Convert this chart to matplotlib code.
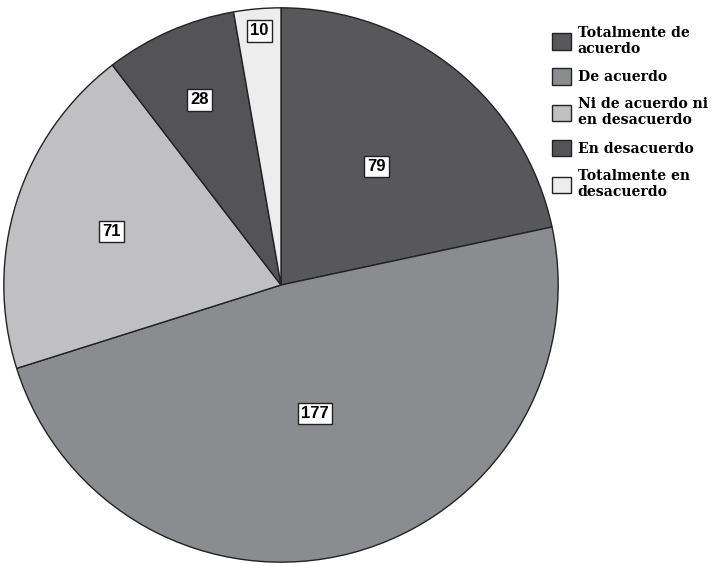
import numpy as np
import matplotlib.pyplot as plt

categories = ["Totalmente de\nacuerdo", "De acuerdo", "Ni de acuerdo ni\nen desacuerdo",
              "En desacuerdo", "Totalmente en\ndesacuerdo"]
counts = [79, 177, 71, 28, 10]
colors = ["#58585b", "#8b8c90", "#c0c0c2", "#545456", "#ededed"]
label_r = [0.55, 0.48, 0.64, 0.73, 0.92]

W, H = 712, 563
fig = plt.figure(figsize=(W / 100, H / 100), dpi=100)
# pie area in pixels: left 3, top 7, size 556
ax = fig.add_axes([3 / W, (H - 7 - 556) / H, 556 / W, 556 / H])

wedges, _ = ax.pie(counts, colors=colors, startangle=90, counterclock=False,
                   wedgeprops=dict(edgecolor="#222222", linewidth=1.0))
ax.set_aspect("equal")
ax.set_xlim(-1.003, 1.003)
ax.set_ylim(-1.003, 1.003)

for w, v, r in zip(wedges, counts, label_r):
    ang = np.deg2rad((w.theta1 + w.theta2) / 2)
    ax.text(r * np.cos(ang), r * np.sin(ang), str(v), ha="center", va="center",
            fontsize=12, fontweight="bold", family="Liberation Sans",
            bbox=dict(boxstyle="square,pad=0.2", fc="white", ec="#222222", lw=1.0))

leg = fig.legend(wedges, categories, loc="upper left", bbox_to_anchor=(546 / W, 1 - 20 / H),
                 frameon=False, handlelength=1.4, handleheight=1.4, handletextpad=0.45,
                 labelspacing=0.9, borderaxespad=0,
                 prop=dict(family="DejaVu Serif", weight="bold", size=10.1))

fig.savefig("out.png", dpi=100)
